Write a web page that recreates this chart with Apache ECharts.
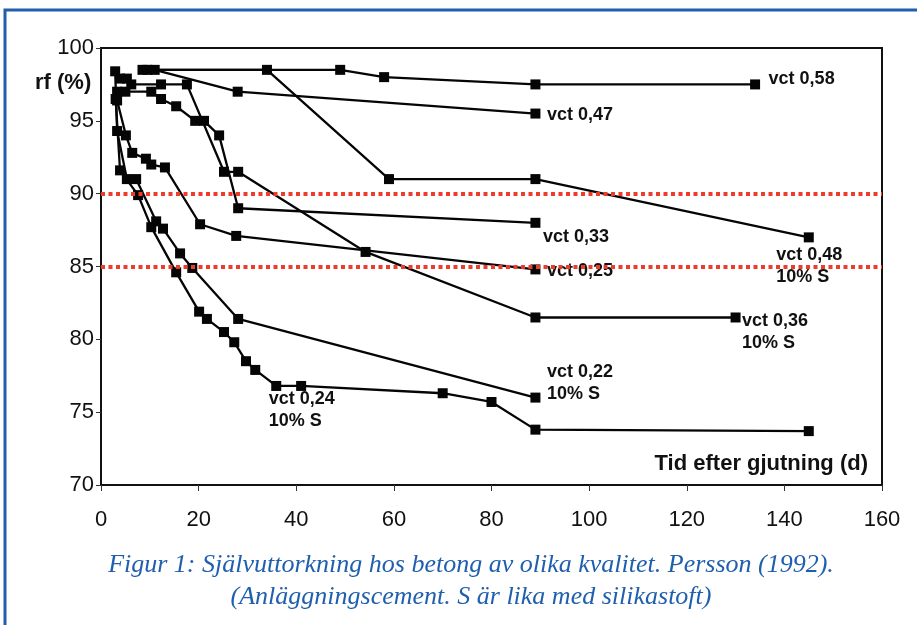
<!DOCTYPE html>
<html>
<head>
<meta charset="utf-8">
<script src="https://cdn.jsdelivr.net/npm/echarts@6/dist/echarts.min.js"></script>
<style>
html,body{margin:0;padding:0;background:#fff;}
#main{width:917px;height:625px;}
</style>
</head>
<body>
<div id="main"></div>
<script>
// rf (%) vs tid (d)
const vct058 = [[8.5,98.5],[49,98.5],[58,98],[89,97.5],[134,97.5]];
const vct048 = [[9.5,98.5],[34,98.5],[59,91],[89,91],[145,87]];
const vct047 = [[11,98.5],[28,97],[89,95.5]];
const vct036 = [[3.9,97.9],[5.3,97.9],[6.2,97.5],[12.3,97.5],[17.6,97.5],[25.2,91.5],[28.1,91.5],[54.2,86],[89,81.5],[130,81.5]];
const vct033 = [[3.3,97],[5,97],[10.3,97],[12.3,96.5],[15.4,96],[19.3,95],[21.1,95],[24.2,94],[28.1,89],[89,88]];
const vct025 = [[3.3,96.4],[5.1,94],[6.4,92.8],[9.2,92.4],[10.3,92],[13.1,91.8],[20.3,87.9],[27.7,87.1],[89,84.8]];
const vct022 = [[2.9,98.4],[3.3,94.3],[5.3,91],[7.2,91],[11.3,88.1],[12.7,87.6],[16.2,85.9],[18.7,84.9],[28.1,81.4],[89,76]];
const vct024 = [[3,96.5],[3.9,91.6],[7.6,89.9],[10.3,87.7],[15.4,84.6],[20.1,81.9],[21.7,81.4],[25.2,80.5],[27.3,79.8],[29.7,78.5],[31.6,77.9],[35.9,76.8],[41,76.8],[70,76.3],[80,75.7],[89,73.8],[145,73.7]];
const limits = [90, 85];

const seriesList = [
    {name:'vct 0,58', data:vct058, at:4, pos:[18.5,-11.5]},
    {name:'vct 0,48\n10% S', data:vct048, at:4, pos:[-27.5,11.5]},
    {name:'vct 0,47', data:vct047, at:2, pos:[16.5,-4.5]},
    {name:'vct 0,36\n10% S', data:vct036, at:9, pos:[11.5,-2.5]},
    {name:'vct 0,33', data:vct033, at:9, pos:[12.5,8.5]},
    {name:'vct 0,25', data:vct025, at:8, pos:[16.5,-4.5]},
    {name:'vct 0,22\n10% S', data:vct022, at:9, pos:[16.5,-31.5]},
    {name:'vct 0,24\n10% S', data:vct024, at:11, pos:[-2.5,7.5]}
];

const chart = echarts.init(document.getElementById('main'));

let series = seriesList.map((s) => {
    let data = s.data.map((p, i) => {
        if (i != s.at) return p;
        return {
            value: p,
            label: {
                show: true,
                formatter: s.name,
                position: s.pos,
                align: 'left',
                verticalAlign: 'top',
                fontFamily: 'Liberation Sans, Arial, sans-serif',
                fontWeight: 'bold',
                fontSize: 18,
                lineHeight: 22,
                color: '#111'
            }
        };
    });
    return {
        name: s.name,
        type: 'line',
        z: 3,
        data: data,
        symbol: 'rect',
        symbolSize: 10,
        itemStyle: {color: '#050505'},
        lineStyle: {color: '#050505', width: 2.3},
        label: {show: false},
        emphasis: {disabled: true},
        animation: false
    };
});

series.unshift({
    type: 'line',
    z: 1,
    data: [],
    markLine: {
        silent: true,
        symbol: 'none',
        label: {show: false},
        lineStyle: {color: '#ef3b2a', width: 4, type: [4, 3.5]},
        data: limits.map((v) => ({yAxis: v}))
    },
    animation: false
});

let option = {
    animation: false,
    grid: {
        left: 101, right: 35, top: 48, bottom: 140,
        show: true, borderColor: '#111', borderWidth: 2
    },
    xAxis: {
        type: 'value',
        min: 0, max: 160, interval: 20,
        splitLine: {show: false},
        axisLine: {show: true, onZero: false, lineStyle: {color: '#111', width: 2}},
        axisTick: {show: true, length: 6, lineStyle: {color: '#333'}},
        axisLabel: {fontSize: 22, color: '#111', margin: 24, fontFamily: 'Liberation Sans, Arial, sans-serif'}
    },
    yAxis: {
        type: 'value',
        min: 70, max: 100, interval: 5,
        splitLine: {show: false},
        axisLine: {show: true, lineStyle: {color: '#111', width: 2}},
        axisTick: {show: true, length: 5, lineStyle: {color: '#333'}},
        axisLabel: {fontSize: 22, color: '#111', margin: 7, fontFamily: 'Liberation Sans, Arial, sans-serif'}
    },
    graphic: [
        {
            type: 'rect',
            shape: {x: 5, y: 10, width: 1000, height: 1000},
            style: {fill: 'none', stroke: '#1f5fae', lineWidth: 3},
            silent: true
        },
        {
            type: 'text', x: 35, y: 83,
            style: {
                text: 'rf (%)', fontFamily: 'Liberation Sans, Arial, sans-serif',
                fontWeight: 'bold', fontSize: 22, fill: '#111',
                textAlign: 'left', textVerticalAlign: 'middle'
            }
        },
        {
            type: 'text', x: 868, y: 464,
            style: {
                text: 'Tid efter gjutning (d)', fontFamily: 'Liberation Sans, Arial, sans-serif',
                fontWeight: 'bold', fontSize: 22, fill: '#111',
                textAlign: 'right', textVerticalAlign: 'middle'
            }
        },
        {
            type: 'text', x: 471, y: 565,
            style: {
                text: 'Figur 1: Självuttorkning hos betong av olika kvalitet. Persson (1992).',
                fontFamily: 'Liberation Serif, Times New Roman, serif',
                fontStyle: 'italic', fontSize: 26, fill: '#1f5fae',
                textAlign: 'center', textVerticalAlign: 'middle'
            }
        },
        {
            type: 'text', x: 471, y: 597,
            style: {
                text: '(Anläggningscement. S är lika med silikastoft)',
                fontFamily: 'Liberation Serif, Times New Roman, serif',
                fontStyle: 'italic', fontSize: 26, fill: '#1f5fae',
                textAlign: 'center', textVerticalAlign: 'middle'
            }
        }
    ],
    series: series
};

chart.setOption(option);
</script>
</body>
</html>
